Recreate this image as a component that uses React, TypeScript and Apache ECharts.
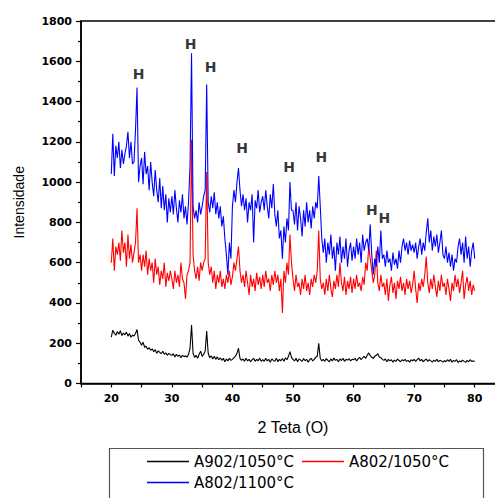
import React, { useEffect, useRef } from "react";
import * as echarts from "echarts";

// 2θ grid: 20° to 80° in steps of 0.25°
const X_START = 20;
const X_STEP = 0.25;

const blackValues = [
  230, 265, 250, 240, 258, 245, 262, 238, 250, 242, 255, 235, 248, 230, 240, 236, 248, 268, 215, 205,
  190, 205, 180, 185, 170, 178, 165, 172, 158, 168, 150, 162, 155, 148, 160, 145, 152, 140, 150, 143,
  140, 148, 132, 145, 135, 142, 128, 140, 133, 138, 130, 145, 175, 290, 150, 130, 140, 125, 145, 160,
  135, 145, 160, 260, 150, 128, 138, 122, 135, 120, 132, 118, 128, 115, 125, 108, 122, 112, 125, 115,
  120, 128, 135, 150, 175, 125, 115, 122, 110, 125, 112, 120, 108, 118, 125, 110, 120, 113, 126, 110,
  118, 110, 125, 112, 120, 106, 122, 115, 110, 126, 108, 120, 113, 124, 110, 128, 118, 135, 158, 130,
  120, 112, 125, 108, 122, 116, 110, 124, 113, 120, 106, 118, 125, 112, 120, 130, 135, 200, 125, 112,
  120, 110, 124, 115, 108, 122, 112, 126, 115, 120, 108, 122, 114, 125, 110, 120, 116, 124, 112, 120,
  118, 125, 112, 122, 130, 118, 128, 135, 125, 140, 152, 138, 130, 125, 135, 140, 148, 132, 128, 120,
  115, 122, 108, 120, 112, 118, 106, 116, 110, 122, 114, 108, 118, 112, 120, 110, 115, 106, 118, 112,
  120, 110, 118, 126, 112, 120, 108, 116, 122, 110, 118, 112, 106, 116, 110, 120, 108, 115, 112, 106,
  114, 108, 118, 110, 120, 106, 115, 110, 118, 104, 112, 108, 116, 110, 105, 115, 108, 118, 110, 112,
  110,
];

const redValues = [
  600, 720, 560, 680, 640, 700, 610, 760, 650, 700, 580, 740, 620, 690, 600, 650, 700, 870, 600, 640,
  560, 640, 580, 660, 540, 620, 560, 600, 500, 620, 540, 580, 490, 560, 520, 600, 480, 550, 510, 560,
  520, 470, 560, 500, 540, 480, 600, 520, 500, 420, 540, 560, 600, 1210, 640, 560, 520, 580, 510, 600,
  560, 600, 620, 1050, 600, 540, 580, 500, 560, 470, 540, 500, 560, 480, 520, 470, 540, 500, 560, 490,
  530, 600, 560, 620, 680, 560, 500, 540, 480, 560, 500, 440, 540, 480, 520, 460, 550, 490, 530, 470,
  540, 480, 560, 500, 520, 460, 540, 490, 560, 500, 540, 460, 520, 350, 560, 500, 600, 540, 740, 600,
  520, 460, 540, 480, 500, 440, 520, 470, 540, 460, 500, 440, 520, 480, 540, 500, 560, 760, 520, 470,
  500, 440, 520, 460, 540, 470, 430, 510, 470, 540, 480, 600, 500, 460, 530, 440, 510, 470, 530, 450,
  520, 470, 540, 480, 500, 460, 530, 490, 600, 560, 680, 620, 560, 500, 540, 660, 500, 460, 540, 480,
  500, 440, 520, 410, 490, 530, 450, 500, 420, 510, 470, 530, 460, 500, 440, 520, 470, 510, 450, 490,
  560, 470, 400, 500, 460, 520, 480, 540, 630, 500, 450, 520, 470, 540, 480, 430, 510, 460, 540, 480,
  500, 440, 520, 470, 410, 500, 460, 540, 480, 520, 450, 500, 560, 420, 490, 530, 460, 510, 440, 490,
  460,
];

const blueValues = [
  1040, 1240, 1030, 1180, 1120, 1200, 1070, 1160, 1090, 1140, 1180, 1250, 1120, 1200, 1090, 1100, 1260, 1470, 1000, 1080,
  1120, 990, 1150, 1040, 1080, 960, 1100, 1000, 930, 1060, 960, 900, 1020, 870, 980, 860, 940, 800, 920, 850,
  930, 840, 960, 870, 800, 910, 850, 940, 820, 880, 790, 900, 1080, 1640, 880, 820, 860, 800, 900, 840,
  880, 930, 960, 1485, 900, 850, 930, 870, 950, 840, 900, 820, 880, 780, 830, 720, 640, 540, 700, 620,
  880, 960, 900, 1000, 1070, 960, 880, 940, 860, 920, 800, 900, 860, 940, 700, 910, 870, 960, 850, 900,
  930, 860, 960, 880, 820, 940, 870, 990, 840, 780, 860, 720, 760, 620, 780, 700, 820, 760, 1000, 860,
  860, 790, 900, 760, 880, 820, 730, 860, 780, 900, 800, 860, 770, 880, 820, 900, 870, 1030, 880, 720,
  650, 720, 600, 700, 640, 740, 620, 680, 560, 700, 640, 730, 600, 680, 620, 720, 580, 660, 700, 610,
  680, 620, 720, 640, 700, 600, 740, 660, 700, 720, 660, 790, 640, 540, 620, 580, 680, 600, 760, 620,
  640, 580, 660, 600, 620, 560, 650, 590, 620, 570, 660, 600, 680, 720, 660, 700, 640, 710, 660, 690,
  650, 700, 620, 680, 720, 640, 700, 660, 750, 820, 700, 760, 660, 730, 680, 740, 650, 700, 760, 640,
  620, 680, 600, 650, 580, 640, 560, 620, 600, 680, 720, 640, 700, 600, 730, 620, 680, 580, 660, 700,
  620,
];

// "H" (hematite) annotations: [2θ, intensity] of each label
const hPeakX = [24.53, 33.1, 36.4, 41.59, 49.34, 54.7, 63.02, 65.08];
const hPeakY = [1536, 1688, 1571, 1168, 1074, 1124, 860, 820];

const yTicks = { min: 0, max: 1800, interval: 200 };
const xRange = { min: 15, max: 85, interval: 5 };

const SERIES_NAMES = ["A902/1050°C", "A802/1050°C", "A802/1100°C"];

const toPairs = (vals: number[]) => vals.map((v, i) => [X_START + i * X_STEP, v]);

export default function App() {
  const ref = useRef<HTMLDivElement>(null);
  useEffect(() => {
    if (!ref.current) return;
    const chart = echarts.init(ref.current, null, { renderer: "svg" });
    const tickFont = {
      fontFamily: "DejaVu Sans",
      fontWeight: "bold" as const,
      fontSize: 11,
      color: "#000",
    };
    const legendText = { fontFamily: "DejaVu Sans", fontSize: 15, color: "#000" };
    const legendCommon = {
      icon: "rect",
      itemWidth: 42,
      itemHeight: 1.5,
      itemGap: 0,
      padding: 0,
      textStyle: legendText,
      orient: "horizontal" as const,
    };
    chart.setOption({
      animation: false,
      backgroundColor: "#fff",
      grid: {
        left: 81,
        top: 21,
        width: 424,
        height: 362.5,
        show: true,
        borderColor: "#000",
        borderWidth: 1.5,
        containLabel: false,
        outerBoundsMode: "none",
      },
      xAxis: {
        type: "value",
        min: xRange.min,
        max: xRange.max,
        interval: xRange.interval,
        name: "2 Teta (O)",
        nameLocation: "middle",
        nameGap: 36,
        nameTextStyle: { fontFamily: "Liberation Sans", fontSize: 16, color: "#000" },
        axisLine: { lineStyle: { color: "#000", width: 1.5 } },
        axisTick: { show: true, length: 4, lineStyle: { color: "#000", width: 1.2 } },
        axisLabel: {
          ...tickFont,
          margin: 9,
          formatter: (v: number) => (v % 10 === 0 && v >= 20 && v <= 80 ? String(v) : ""),
        },
        splitLine: { show: false },
      },
      yAxis: {
        type: "value",
        min: yTicks.min,
        max: yTicks.max,
        interval: yTicks.interval,
        name: "Intensidade",
        nameLocation: "middle",
        nameGap: 55,
        nameTextStyle: { fontFamily: "Liberation Sans", fontSize: 14, color: "#000" },
        axisLine: { show: true, lineStyle: { color: "#000", width: 1.5 } },
        axisTick: { show: true, length: 5, lineStyle: { color: "#000", width: 1.2 } },
        minorTick: { show: true, splitNumber: 2, length: 3, lineStyle: { color: "#000", width: 1.2 } },
        axisLabel: { ...tickFont, margin: 9, formatter: (v: number) => String(v) },
        splitLine: { show: false },
      },
      legend: [
        { ...legendCommon, data: [SERIES_NAMES[0]], left: 147, top: 454 },
        { ...legendCommon, data: [SERIES_NAMES[1]], left: 302, top: 454 },
        { ...legendCommon, data: [SERIES_NAMES[2]], left: 147, top: 475 },
      ],
      graphic: [
        {
          type: "rect",
          shape: { x: 109.5, y: 448.5, width: 374, height: 70 },
          style: { fill: "none", stroke: "#555", lineWidth: 1.2 },
          silent: true,
        },
      ],
      series: [
        {
          name: SERIES_NAMES[0],
          type: "line",
          data: toPairs(blackValues),
          showSymbol: false,
          symbol: "none",
          color: "#000000",
          lineStyle: { width: 1.1, color: "#000000" },
        },
        {
          name: SERIES_NAMES[1],
          type: "line",
          data: toPairs(redValues),
          showSymbol: false,
          symbol: "none",
          color: "#ff0000",
          lineStyle: { width: 1.1, color: "#ff0000" },
        },
        {
          name: SERIES_NAMES[2],
          type: "line",
          data: toPairs(blueValues),
          showSymbol: false,
          symbol: "none",
          color: "#0000ff",
          lineStyle: { width: 1.1, color: "#0000ff" },
        },
        {
          name: "H",
          type: "scatter",
          data: hPeakX.map((x, i) => [x, hPeakY[i]]),
          symbolSize: 1,
          itemStyle: { color: "rgba(0,0,0,0)" },
          label: {
            show: true,
            position: "inside",
            formatter: "H",
            fontFamily: "DejaVu Sans",
            fontWeight: "bold",
            fontSize: 14,
            color: "#000",
            textBorderWidth: 0,
          },
          z: 5,
        },
      ],
    });
    return () => chart.dispose();
  }, []);
  return (
    <div
      ref={ref}
      style={{ position: "fixed", left: 0, top: 0, width: 495, height: 498, background: "#fff" }}
    />
  );
}
